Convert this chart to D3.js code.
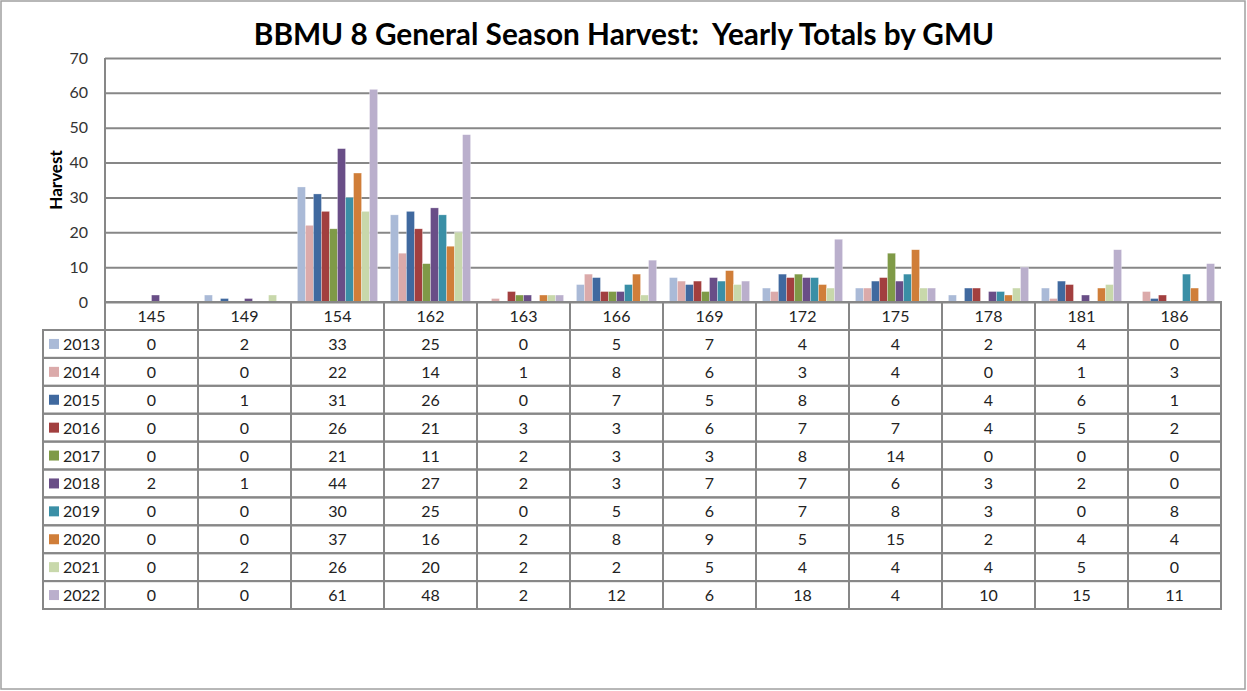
<!DOCTYPE html>
<html>
  <head>
    <meta charset="utf-8">
    <title>BBMU 8 General Season Harvest</title>
    <script src="https://d3js.org/d3.v7.min.js"></script>
    <style>
      body { margin: 0; background: #fff; }
      svg { display: block; font-family: Lato, "Open Sans", sans-serif; }
      .grid line { stroke: #878787; stroke-width: 2; }
      .grid path { display: none; }
      .grid text { font-family: Lato, sans-serif; font-size: 16px; fill: #333; }
      .cell { fill: none; stroke: #878787; stroke-width: 2; }
      .tableText { font-size: 16px; fill: #222; text-anchor: middle; }
    </style>
  </head>
  <body>
    <svg id="chart" width="1247" height="691"></svg>
    <script>
      var gmus = ["145", "149", "154", "162", "163", "166", "169", "172", "175", "178", "181", "186"];
      var years = ["2013", "2014", "2015", "2016", "2017", "2018", "2019", "2020", "2021", "2022"];
      var v2013 = [0, 2, 33, 25, 0, 5, 7, 4, 4, 2, 4, 0];
      var v2014 = [0, 0, 22, 14, 1, 8, 6, 3, 4, 0, 1, 3];
      var v2015 = [0, 1, 31, 26, 0, 7, 5, 8, 6, 4, 6, 1];
      var v2016 = [0, 0, 26, 21, 3, 3, 6, 7, 7, 4, 5, 2];
      var v2017 = [0, 0, 21, 11, 2, 3, 3, 8, 14, 0, 0, 0];
      var v2018 = [2, 1, 44, 27, 2, 3, 7, 7, 6, 3, 2, 0];
      var v2019 = [0, 0, 30, 25, 0, 5, 6, 7, 8, 3, 0, 8];
      var v2020 = [0, 0, 37, 16, 2, 8, 9, 5, 15, 2, 4, 4];
      var v2021 = [0, 2, 26, 20, 2, 2, 5, 4, 4, 4, 5, 0];
      var v2022 = [0, 0, 61, 48, 2, 12, 6, 18, 4, 10, 15, 11];
      var yTicks = [0, 10, 20, 30, 40, 50, 60, 70];
      var colours = ["#aabad7", "#dbaaaa", "#40699f", "#a23f3f", "#7f9a47", "#694e87", "#3a8fa6", "#d07e39", "#c8d8ab", "#baafcc"];

      var series = [v2013, v2014, v2015, v2016, v2017, v2018, v2019, v2020, v2021, v2022];
      var rows = years.map(function(y, i) { return { year: y, values: series[i] }; });

      var svg = d3.select("#chart");
      var margin = { top: 58, left: 105, right: 1221, zero: 302 };

      // outer frame
      svg.append("rect")
        .attr("x", 1).attr("y", 1)
        .attr("width", 1244).attr("height", 688)
        .attr("fill", "none").attr("stroke", "#a0a0a0").attr("stroke-width", 1.5);

      // scales
      var x = d3.scaleBand().domain(gmus).range([margin.left, margin.right]);
      var xYear = d3.scaleBand().domain(years).range([0, x.bandwidth()]).paddingOuter(0.8);
      var y = d3.scaleLinear().domain([0, 70]).range([margin.zero, margin.top]);
      var rowY = d3.scaleBand().domain(years).range([330, 609]);
      var colour = d3.scaleOrdinal().domain(years).range(colours);

      // gridlines and y labels
      svg.append("g")
        .attr("class", "grid")
        .attr("transform", "translate(" + margin.left + ",0)")
        .call(d3.axisLeft(y).tickValues(yTicks).tickSize(-(margin.right - margin.left)).tickPadding(17));
      svg.append("line")
        .attr("x1", margin.left).attr("x2", margin.left)
        .attr("y1", margin.top).attr("y2", margin.zero)
        .attr("stroke", "#878787").attr("stroke-width", 2);

      // bars
      svg.append("g").selectAll("g")
        .data(rows)
        .join("g")
          .attr("fill", function(d) { return colour(d.year); })
        .selectAll("rect")
        .data(function(d) { return d.values.map(function(v, i) { return { year: d.year, gmu: gmus[i], value: v }; }); })
        .join("rect")
          .attr("x", function(d) { return x(d.gmu) + xYear(d.year); })
          .attr("width", xYear.bandwidth())
          .attr("y", function(d) { return y(d.value); })
          .attr("height", function(d) { return y(0) - y(d.value); })
          .attr("stroke", "#fff").attr("stroke-opacity", 0.5).attr("stroke-width", 0.6);

      // header row of the table
      var table = svg.append("g");
      table.selectAll(".head")
        .data(gmus)
        .join("rect")
          .attr("class", "cell")
          .attr("x", function(d) { return x(d); })
          .attr("y", y(0))
          .attr("width", x.bandwidth())
          .attr("height", rowY.range()[0] - y(0));
      table.selectAll(".headText")
        .data(gmus)
        .join("text")
          .attr("class", "tableText")
          .attr("x", function(d) { return x(d) + x.bandwidth() / 2; })
          .attr("y", (y(0) + rowY.range()[0]) / 2 + 6)
          .text(function(d) { return d; });

      // data rows
      var row = table.selectAll(".row")
        .data(rows)
        .join("g")
          .attr("transform", function(d) { return "translate(0," + rowY(d.year) + ")"; });
      row.append("rect")
        .attr("class", "cell")
        .attr("x", 43).attr("width", margin.left - 43)
        .attr("height", rowY.bandwidth());
      row.append("rect")
        .attr("x", 49).attr("y", rowY.bandwidth() / 2 - 5)
        .attr("width", 10).attr("height", 10)
        .attr("fill", function(d) { return colour(d.year); });
      row.append("text")
        .attr("class", "tableText")
        .style("text-anchor", "start")
        .attr("x", 63).attr("y", rowY.bandwidth() / 2 + 6)
        .text(function(d) { return d.year; });
      row.selectAll(".c")
        .data(function(d) { return d.values; })
        .join("rect")
          .attr("class", "cell")
          .attr("x", function(d, i) { return x(gmus[i]); })
          .attr("width", x.bandwidth())
          .attr("height", rowY.bandwidth());
      row.selectAll(".t")
        .data(function(d) { return d.values; })
        .join("text")
          .attr("class", "tableText")
          .attr("x", function(d, i) { return x(gmus[i]) + x.bandwidth() / 2; })
          .attr("y", rowY.bandwidth() / 2 + 6)
          .text(function(d) { return d; });

      // title and axis label
      var title = svg.append("text")
        .attr("x", 624).attr("y", 45)
        .attr("text-anchor", "middle")
        .style("white-space", "pre")
        .style("font-weight", "bold").style("font-size", "28px")
        .attr("fill", "#000")
        .text("BBMU 8 General Season Harvest:  Yearly Totals by GMU");
      var w = title.node().getComputedTextLength();
      title.style("font-size", (28 * 741 / w) + "px");

      svg.append("text")
        .attr("transform", "translate(62,180) rotate(-90)")
        .attr("text-anchor", "middle")
        .style("font-weight", "bold").style("font-size", "17px")
        .text("Harvest");
    </script>
  </body>
</html>
